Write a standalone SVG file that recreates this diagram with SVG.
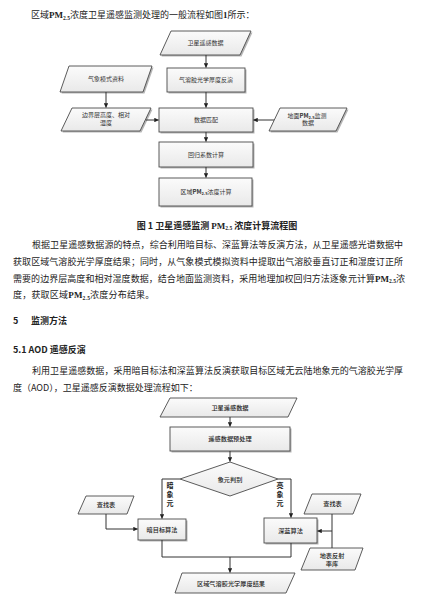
<svg xmlns="http://www.w3.org/2000/svg" width="426" height="605" viewBox="0 0 426 605">
<defs>
<linearGradient id="g" x1="0" y1="0" x2="0" y2="1">
<stop offset="0" stop-color="#fbfbfb"/>
<stop offset="1" stop-color="#e9e9e9"/>
</linearGradient>
<marker id="ah" viewBox="0 0 8 8" refX="7.5" refY="4" markerWidth="4.5" markerHeight="4.5" orient="auto" markerUnits="userSpaceOnUse">
<path d="M0,0 L8,4 L0,8 z" fill="#222"/>
</marker>
</defs>
<style>
.body{font-family:"Noto Sans CJK SC","Liberation Serif",serif;font-size:9px;fill:#222}
.lat{font-family:"Liberation Serif",serif;font-weight:bold}
.hd{font-family:"Noto Sans CJK SC","Liberation Sans",sans-serif;font-size:9px;font-weight:bold;fill:#222}
.cap{font-family:"Noto Sans CJK SC","Liberation Serif",serif;font-size:9px;font-weight:bold;fill:#222}
.shape{fill:url(#g);stroke:#4a4a4a;stroke-width:0.9}
.shadow{fill:#b5b5b5;stroke:none}
.t{font-family:"Noto Sans CJK SC","Liberation Sans",sans-serif;font-size:6px;fill:#333;text-anchor:middle}
.tb{font-family:"Noto Sans CJK SC","Liberation Sans",sans-serif;font-size:6.2px;fill:#222;text-anchor:middle;font-weight:500}
.vl{font-family:"Noto Sans CJK SC","Liberation Sans",sans-serif;font-size:7px;fill:#222;text-anchor:middle;font-weight:bold}
.ln{fill:none;stroke:#333;stroke-width:1}
</style>
<rect width="426" height="605" fill="#ffffff"/>

<!-- text block -->
<text class="body" x="31" y="18">区域<tspan class="lat">PM</tspan><tspan class="lat" font-size="5.5" dy="1.5">2.5</tspan><tspan dy="-1.5">浓度卫星遥感监测处理的一般流程如图</tspan><tspan class="lat">1</tspan>所示：</text>

<text class="cap" x="217" y="228.5" text-anchor="middle">图  1 卫星遥感监测 <tspan font-family="Liberation Serif">PM</tspan><tspan font-family="Liberation Serif" font-size="5.5" dy="1.5">2.5</tspan><tspan dy="-1.5"> 浓度计算流程图</tspan></text>

<text class="body" x="32" y="247.5" textLength="371" lengthAdjust="spacing">根据卫星遥感数据源的特点，综合利用暗目标、深蓝算法等反演方法，从卫星遥感光谱数据中</text>
<text class="body" x="13" y="264.5" textLength="390" lengthAdjust="spacing">获取区域气溶胶光学厚度结果；同时，从气象模式模拟资料中提取出气溶胶垂直订正和湿度订正所</text>
<text class="body" x="13" y="281.5" textLength="362" lengthAdjust="spacing">需要的边界层高度和相对湿度数据，结合地面监测资料，采用地理加权回归方法逐象元计算</text>
<text class="body" x="375" y="281.5"><tspan class="lat">PM</tspan><tspan class="lat" font-size="5.5" dy="1.5">2.5</tspan><tspan dy="-1.5">浓</tspan></text>
<text class="body" x="13" y="298" letter-spacing="0.2">度，获取区域<tspan class="lat">PM</tspan><tspan class="lat" font-size="5.5" dy="1.5">2.5</tspan><tspan dy="-1.5">浓度分布结果。</tspan></text>

<text class="hd" x="13" y="323.5">5</text>
<text class="hd" x="31" y="323.5">监测方法</text>
<text class="hd" x="13" y="352.5">5.1 AOD 遥感反演</text>

<text class="body" x="32" y="374" textLength="371" lengthAdjust="spacing">利用卫星遥感数据，采用暗目标法和深蓝算法反演获取目标区域无云陆地象元的气溶胶光学厚</text>
<text class="body" x="13" y="390.5">度（AOD），卫星遥感反演数据处理流程如下：</text>

<!-- Diagram 1 nodes -->
<g id="n1">
<polygon class="shadow" points="172.5,32.5 252.5,32.5 241.5,56.5 161.5,56.5"/>
<polygon class="shape" points="171,31 251,31 240,55 160,55"/>
<text class="t" x="205.5" y="45">卫星遥感数据</text>
</g>
<g id="n2">
<rect class="shadow" x="168.5" y="69.5" width="78" height="24"/>
<rect class="shape" x="167" y="68" width="78" height="24"/>
<text class="t" x="206" y="82">气溶胶光学厚度反演</text>
</g>
<g id="n3">
<polygon class="shadow" points="70.5,67.5 153.5,67.5 144.5,93.5 61.5,93.5"/>
<polygon class="shape" points="69,66 152,66 143,92 60,92"/>
<text class="t" x="106" y="81">气象模式资料</text>
</g>
<g id="n4">
<polygon class="shadow" points="73.5,109.5 152.5,109.5 141.5,132.5 62.5,132.5"/>
<polygon class="shape" points="72,108 151,108 140,131 61,131"/>
<text class="t" x="106" y="116.5">边界层高度、相对</text>
<text class="t" x="106" y="124.5">湿度</text>
</g>
<g id="n5">
<rect class="shadow" x="160.5" y="109.5" width="94" height="24"/>
<rect class="shape" x="159" y="108" width="94" height="24"/>
<text class="t" x="206" y="122">数据匹配</text>
</g>
<g id="n6">
<polygon class="shadow" points="281.5,109.5 348.5,109.5 337.5,132.5 270.5,132.5"/>
<polygon class="shape" points="280,108 347,108 336,131 269,131"/>
<text class="t" x="307" y="117.5">地面<tspan font-weight="bold">PM</tspan><tspan font-size="4" dy="1" font-weight="bold">2.5</tspan><tspan dy="-1">监测</tspan></text>
<text class="t" x="308" y="125">数据</text>
</g>
<g id="n7">
<rect class="shadow" x="160.5" y="143.5" width="94" height="25"/>
<rect class="shape" x="159" y="142" width="94" height="25"/>
<text class="t" x="206" y="156.5">回归系数计算</text>
</g>
<g id="n8">
<rect class="shadow" x="160.5" y="179.5" width="93" height="28"/>
<rect class="shape" x="159" y="178" width="93" height="28"/>
<text class="t" x="206" y="194">区域<tspan font-weight="bold">PM</tspan><tspan font-size="4" dy="1" font-weight="bold">2.5</tspan><tspan dy="-1">浓度计算</tspan></text>
</g>

<!-- Diagram 2 nodes -->
<g id="m1">
<polygon class="shape" points="170,398 297,398 288,417 160,417"/>
<text class="tb" x="230" y="410">卫星遥感数据</text>
</g>
<g id="m2">
<rect class="shadow" x="171.5" y="428.5" width="120" height="24"/>
<rect class="shape" x="170" y="427" width="120" height="24"/>
<text class="tb" x="230" y="441">遥感数据预处理</text>
</g>
<g id="m3">
<polygon class="shape" points="230,462 278,479 230,496 180,479"/>
<text class="tb" x="230" y="482">象元判别</text>
</g>
<g id="m4">
<polygon class="shape" points="86,496 134,496 127,514 78,514"/>
<text class="tb" x="106" y="507">查找表</text>
</g>
<g id="m5">
<rect class="shadow" x="139.5" y="520.5" width="48" height="21"/>
<rect class="shape" x="138" y="519" width="48" height="21"/>
<text class="tb" x="162" y="532">暗目标算法</text>
</g>
<g id="m6">
<rect class="shadow" x="265.5" y="519.5" width="53" height="25"/>
<rect class="shape" x="264" y="518" width="53" height="25"/>
<text class="tb" x="290.5" y="532.5">深蓝算法</text>
</g>
<g id="m7">
<polygon class="shape" points="312,494 361,494 353,514 304,514"/>
<text class="tb" x="332.5" y="506">查找表</text>
</g>
<g id="m8">
<polygon class="shape" points="310,548 363,548 355,570 301,570"/>
<text class="tb" x="332" y="557.5">地表反射</text>
<text class="tb" x="332" y="566">率库</text>
</g>
<g id="m9">
<polygon class="shape" points="182,573 295,573 286,593 175,593"/>
<text class="tb" x="231" y="585.5">区域气溶胶光学厚度结果</text>
</g>

<!-- connectors -->
<g id="connectors">
<line class="ln" x1="206" y1="55" x2="206" y2="67.5" marker-end="url(#ah)"/>
<line class="ln" x1="206" y1="92" x2="206" y2="107.5" marker-end="url(#ah)"/>
<line class="ln" x1="206" y1="132" x2="206" y2="141.5" marker-end="url(#ah)"/>
<line class="ln" x1="206" y1="167" x2="206" y2="177.5" marker-end="url(#ah)"/>
<line class="ln" x1="106" y1="92" x2="106" y2="107.5" marker-end="url(#ah)"/>
<line class="ln" x1="146" y1="120" x2="158.5" y2="120" marker-end="url(#ah)"/>
<line class="ln" x1="274" y1="120" x2="253.5" y2="120" marker-end="url(#ah)"/>

<line class="ln" x1="230" y1="417" x2="230" y2="426.5" marker-end="url(#ah)"/>
<line class="ln" x1="230" y1="451" x2="230" y2="461.5" marker-end="url(#ah)"/>
<polyline class="ln" points="180,479 162,479 162,518.5" marker-end="url(#ah)"/>
<polyline class="ln" points="278,479 291,479 291,517.5" marker-end="url(#ah)"/>
<polyline class="ln" points="106,514 106,529 137.5,529" marker-end="url(#ah)"/>
<line class="ln" x1="332" y1="514" x2="332" y2="548"/>
<line class="ln" x1="332" y1="531" x2="317.5" y2="531" marker-end="url(#ah)"/>
<polyline class="ln" points="162,540 162,557 291,557 291,543"/>
<line class="ln" x1="230" y1="557" x2="230" y2="572.5" marker-end="url(#ah)"/>
</g>

<g id="labels">
<text class="vl" x="170" y="488">暗</text>
<text class="vl" x="170" y="497">象</text>
<text class="vl" x="170" y="506">元</text>
<text class="vl" x="280" y="488">亮</text>
<text class="vl" x="280" y="497">象</text>
<text class="vl" x="280" y="506">元</text>
</g>
</svg>
